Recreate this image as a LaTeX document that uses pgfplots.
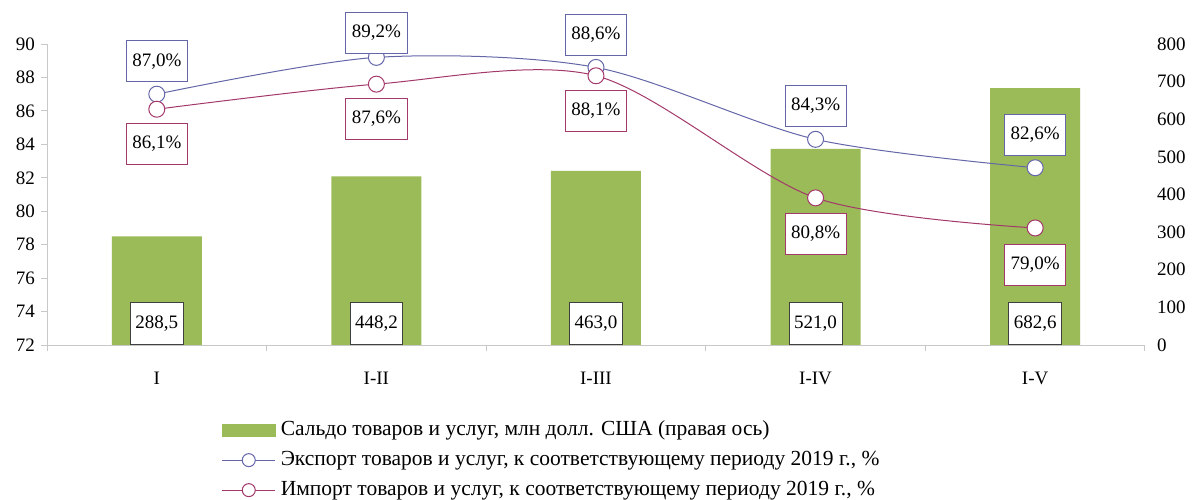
\documentclass[border=0pt]{standalone}
\usepackage{fontspec}
\setmainfont{Liberation Serif}
\usepackage{pgfplots}
\usepackage{pgfplotstable}
\pgfplotsset{compat=1.18}
\definecolor{barg}{HTML}{9BBB59}
\definecolor{expc}{HTML}{6466A8}
\definecolor{impc}{HTML}{A3386A}
\definecolor{axg}{HTML}{C8C8C8}

\pgfplotstableread{
x val
0 288.5
1 448.2
2 463.0
3 521.0
4 682.6
}\saldo
\pgfplotstableread{
x y off
0 87.0 12
1 89.2 4
2 88.6 12
3 84.3 13
4 82.6 12
}\export
\pgfplotstableread{
x y off
0 86.1 -14
1 87.6 -14
2 88.1 -14
3 80.8 -15
4 79.0 -16
}\import

\begin{document}
\fontsize{19pt}{22pt}\selectfont
\begin{tikzpicture}[x=1pt,y=1pt]
\path[use as bounding box] (0,0) rectangle (1194,499);
% bars, right axis
\begin{axis}[
  at={(47pt,154pt)}, anchor=south west,
  scale only axis, width=1098pt, height=301pt,
  xmin=-0.5, xmax=4.5, ymin=0, ymax=800,
  hide x axis,
  axis y line*=right,
  y axis line style={draw=none},
  ytick={0,100,...,800},
  ytick style={draw=none},
  major tick length=0pt,
  yticklabel style={anchor=west, inner sep=0pt, xshift=12pt},
  /pgf/number format/assume math mode=true,
]
\addplot[ybar, bar width=90pt, fill=barg, draw=none,
  visualization depends on={rawy \as \ry},
  nodes near coords={\pgfmathprintnumber[fixed, fixed zerofill, precision=1, use comma]{\pgfplotspointmeta}},
  every node near coord/.append style={draw=black!75, fill=white, text=black, line width=0.8pt,
     inner xsep=5pt, inner ysep=0pt, minimum height=42pt, anchor=south, yshift={-\ry*0.37625}},
] table[x=x, y=val] {\saldo};
\end{axis}
% lines, left axis
\begin{axis}[
  at={(47pt,154pt)}, anchor=south west,
  scale only axis, width=1098pt, height=301pt,
  xmin=-0.5, xmax=4.5, ymin=72, ymax=90,
  axis x line*=bottom, axis y line*=left,
  axis line style={-, axg, line width=1pt},
  tick align=outside, major tick length=6pt,
  tick style={axg, line width=1pt},
  ytick={72,74,...,90},
  yticklabel style={inner sep=0pt, xshift=-6pt},
  xtick={-0.5,0.5,...,4.5}, xticklabels={},
  extra x ticks={0,1,2,3,4},
  extra x tick labels={I,I-II,I-III,I-IV,I-V},
  extra x tick style={major tick length=0pt, xticklabel style={anchor=center, yshift=-33pt}},
  /pgf/number format/assume math mode=true,
  legend cell align=left,
  legend style={draw=none, fill=none, at={(0.159,-0.249)}, anchor=north west,
     inner sep=0pt, row sep=10pt, font=\fontsize{21.5pt}{24pt}\selectfont,
     nodes={inner xsep=2pt, inner ysep=0pt, text height=15pt, text depth=5pt},
     /tikz/every odd column/.append style={column sep=3pt}},
  legend image code/.code={
     \draw[#1] (0pt,0pt) -- (53pt,0pt);
     \draw[#1, only marks, mark size=6.5pt] plot coordinates {(26.5pt,0pt)};
  },
]
\addlegendimage{legend image code/.code={\fill[barg] (0pt,-6pt) rectangle (53pt,6pt);}}
\addlegendentry{Сальдо товаров и услуг, млн долл. США (правая ось)}
\addplot[expc, line width=1pt, smooth, mark=*, mark size=8pt,
  mark options={fill=white, draw=expc, line width=1pt},
  visualization depends on={\thisrow{off} \as \off},
  nodes near coords={\pgfmathprintnumber[fixed, fixed zerofill, precision=1, use comma]{\pgfplotspointmeta}\%},
  every node near coord/.append style={draw=expc, fill=white, text=black, line width=0.8pt,
     inner xsep=6pt, inner ysep=0pt, minimum height=41pt, anchor=south, yshift=\off},
] table[x=x, y=y] {\export};
\addlegendentry{Экспорт товаров и услуг, к соответствующему периоду 2019 г., \%}
\addplot[impc, line width=1pt, smooth, mark=*, mark size=8pt,
  mark options={fill=white, draw=impc, line width=1pt},
  visualization depends on={\thisrow{off} \as \off},
  nodes near coords={\pgfmathprintnumber[fixed, fixed zerofill, precision=1, use comma]{\pgfplotspointmeta}\%},
  every node near coord/.append style={draw=impc, fill=white, text=black, line width=0.8pt,
     inner xsep=6pt, inner ysep=0pt, minimum height=41pt, anchor=north, yshift=\off},
] table[x=x, y=y] {\import};
\addlegendentry{Импорт товаров и услуг, к соответствующему периоду 2019 г., \%}
\end{axis}
\end{tikzpicture}
\end{document}
